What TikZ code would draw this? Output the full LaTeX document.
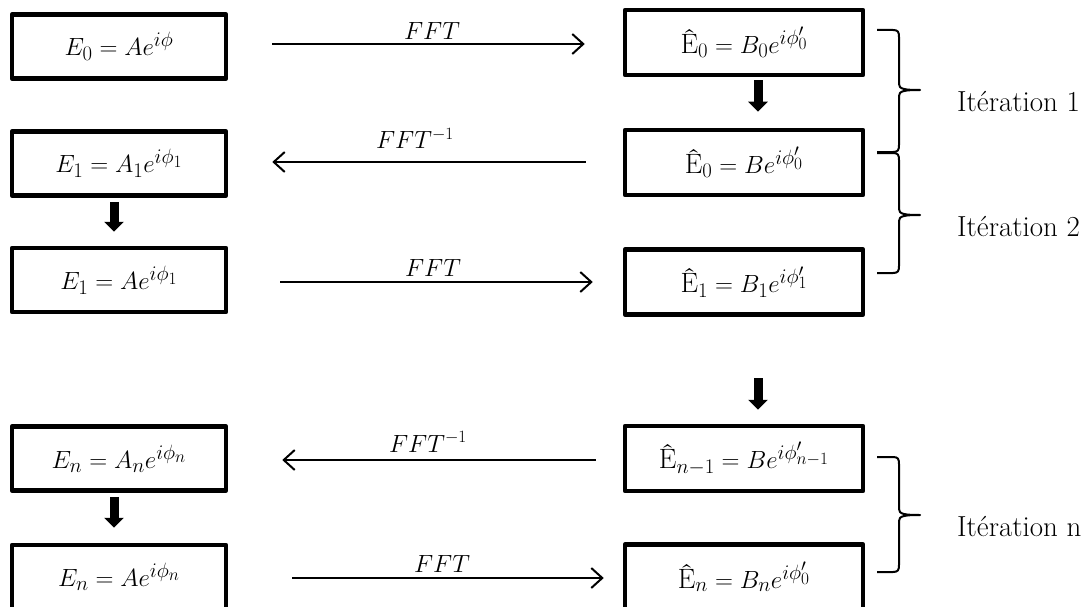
\documentclass[tikz,border=0pt]{standalone}
\usepackage{fontspec}
\usetikzlibrary{arrows.meta,calc}
\DeclareMathSizes{28}{28}{21}{17}
\DeclareMathSizes{24}{24}{18}{14}
\tikzset{
 box/.style={draw, line width=4.5pt, line join=round, minimum width=214pt, minimum height=64pt, inner sep=0pt, font=\fontsize{28}{32}\selectfont},
 rbox/.style={box, minimum width=238pt, minimum height=65pt},
 fft/.style={line width=2pt, -{Straight Barb[length=11pt,width=20pt]}},
 down/.style={line width=9pt, -{Triangle[length=10pt,width=19pt]}},
 lbl/.style={font=\fontsize{24}{28}\selectfont, inner sep=0pt, anchor=base},
 iter/.style={font=\fontsize{29}{33}\selectfont, anchor=west, inner sep=0pt},
 brc/.style={line width=2pt, line join=round}
}
\newcommand\Ehat{\textrm{Ê}}
\newcommand\ItBrace[3]{%
 \draw[brc] (877,#1) -- (893,#1) .. controls (898,#1) and (899,{#1+2}) .. (899,{#1+7})
   -- (899,{#3-6}) .. controls (899,{#3-1}) and (904,#3) .. (920,#3)
   .. controls (904,#3) and (899,{#3+1}) .. (899,{#3+6})
   -- (899,{#2-7}) .. controls (899,{#2-2}) and (898,#2) .. (893,#2) -- (877,#2);}
\begin{document}
\begin{tikzpicture}[x=1pt,y=-1pt]
\useasboundingbox (0,0) rectangle (1089,607);
% left column
\node[box] (L1) at (119,46.5) {$E_0 = Ae^{i\phi}$};
\node[box] (L2) at (119,163.5) {$E_1 = A_1e^{i\phi_1}$};
\node[box] (L3) at (119,280) {$E_1 = Ae^{i\phi_1}$};
\node[box] (L4) at (119,458.5) {$E_n = A_ne^{i\phi_n}$};
\node[box] (L5) at (119,577) {$E_n = Ae^{i\phi_n}$};
% right column
\node[rbox] (R1) at (744,42.5) {$\Ehat_0 = B_0e^{i\phi'_0}$};
\node[rbox] (R2) at (744,162.5) {$\Ehat_0 = Be^{i\phi'_0}$};
\node[rbox] (R3) at (744,282) {$\Ehat_1 = B_1e^{i\phi'_1}$};
\node[rbox] (R4) at (744,458.5) {$\Ehat_{n-1} = Be^{i\phi'_{n-1}}$};
\node[rbox] (R5) at (744,577) {$\Ehat_n = B_ne^{i\phi'_0}$};
\coordinate (gap) at (758,378);
% horizontal arrows
\draw[fft] ($(L1.east)+(44,-2.5)$) -- ($(R1.west |- L1.east)+(-38,-2.5)$)
  node[lbl, midway, xshift=3.5pt, yshift=4pt] {$FFT$};
\draw[fft] ($(R2.west |- L2.east)+(-37,-1.5)$) -- ($(L2.east)+(44,-1.5)$)
  node[lbl, midway, xshift=-14pt, yshift=13pt] {$FFT^{-1}$};
\draw[fft] ($(L3.east)+(52,2)$) -- ($(R3.west |- L3.east)+(-30,2)$)
  node[lbl, midway, xshift=-3.5pt, yshift=6pt] {$FFT$};
\draw[fft] ($(R4.west |- L4.east)+(-27,1.5)$) -- ($(L4.east)+(54,1.5)$)
  node[lbl, midway, xshift=-11pt, yshift=8pt] {$FFT^{-1}$};
\draw[fft] ($(L5.east)+(64,1)$) -- ($(R5.west |- L5.east)+(-19,1)$)
  node[lbl, midway, xshift=-6pt, yshift=6pt] {$FFT$};
% vertical arrows
\draw[down] ([xshift=14pt,yshift=-3pt]R1.south) -- ([xshift=14pt,yshift=16pt]R2.north);
\draw[down] ([xshift=-5pt,yshift=-4pt]L2.south) -- ([xshift=-5pt,yshift=14pt]L3.north);
\draw[down] ([xshift=-5pt,yshift=-4pt]L4.south) -- ([xshift=-5pt,yshift=15pt]L5.north);
\draw[down] (gap) -- ([xshift=14pt,yshift=14pt]R4.north);
% braces
\ItBrace{30}{152}{90}
\ItBrace{153}{273}{215}
\ItBrace{457}{572}{515}
\node[iter] (it1) at (957,102) {Itération 1};
\node[iter] (it2) at (957,227) {Itération 2};
\node[iter] (itn) at (957,527) {Itération n};
\end{tikzpicture}
\end{document}
